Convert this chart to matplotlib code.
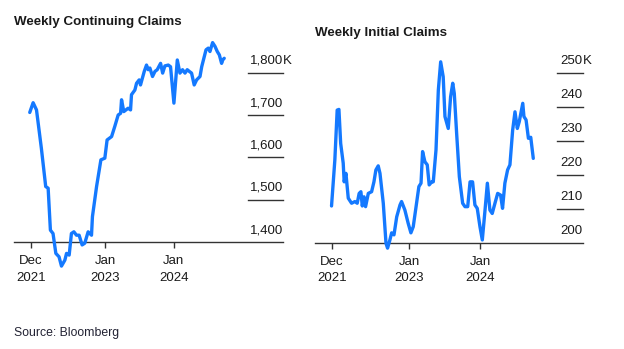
import pandas as pd
import matplotlib
matplotlib.use("Agg")
import matplotlib.pyplot as plt
from matplotlib.transforms import blended_transform_factory

plt.rcParams["font.family"] = ["Liberation Sans", "DejaVu Sans"]

# Weekly continuing claims (thousands)
cont_dates = [
    "2021-11-24", "2021-12-12", "2021-12-30", "2022-01-25", "2022-02-17", "2022-03-02",
    "2022-03-14", "2022-03-28", "2022-04-12", "2022-04-29", "2022-05-12", "2022-05-30",
    "2022-06-08", "2022-06-22", "2022-07-04", "2022-07-17", "2022-07-31", "2022-08-14",
    "2022-08-30", "2022-09-13", "2022-10-01", "2022-10-19", "2022-10-24", "2022-11-15",
    "2022-12-08", "2022-12-29", "2023-01-10", "2023-02-03", "2023-02-20", "2023-03-10",
    "2023-03-23", "2023-03-28", "2023-04-09", "2023-05-02", "2023-05-15", "2023-05-20",
    "2023-06-07", "2023-06-16", "2023-06-30", "2023-07-07", "2023-07-27", "2023-08-08",
    "2023-08-17", "2023-08-26", "2023-09-09", "2023-09-22", "2023-10-04", "2023-10-22",
    "2023-11-02", "2023-11-14", "2023-12-02", "2023-12-14", "2024-01-01", "2024-01-19",
    "2024-02-02", "2024-02-16", "2024-02-29", "2024-03-12", "2024-03-23", "2024-04-04",
    "2024-04-18", "2024-05-01", "2024-05-19", "2024-05-28", "2024-06-20", "2024-07-02",
    "2024-07-11", "2024-07-25", "2024-08-07", "2024-08-19", "2024-08-30", "2024-09-11",
    "2024-09-17", "2024-09-25",
]
cont_values = [
    1706, 1729, 1712, 1621, 1531, 1527,
    1428, 1420, 1373, 1365, 1343, 1357,
    1373, 1369, 1420, 1424, 1416, 1416,
    1393, 1397, 1424, 1416, 1460, 1531,
    1594, 1598, 1641, 1649, 1673, 1700,
    1704, 1736, 1708, 1716, 1712, 1748,
    1759, 1775, 1783, 1771, 1803, 1818,
    1807, 1811, 1791, 1803, 1807, 1822,
    1799, 1816, 1818, 1814, 1728, 1830,
    1799, 1807, 1799, 1807, 1803, 1799,
    1771, 1783, 1791, 1814, 1854, 1858,
    1850, 1871, 1862, 1850, 1842, 1822,
    1830, 1834,
]

# Weekly initial claims (thousands)
init_dates = [
    "2021-11-29", "2021-12-16", "2021-12-28", "2022-01-06", "2022-01-15", "2022-01-28",
    "2022-02-02", "2022-02-11", "2022-02-23", "2022-03-12", "2022-03-29", "2022-04-10",
    "2022-04-20", "2022-04-29", "2022-05-06", "2022-05-15", "2022-05-23", "2022-06-06",
    "2022-06-23", "2022-07-05", "2022-07-15", "2022-07-27", "2022-08-05", "2022-08-22",
    "2022-09-05", "2022-09-13", "2022-09-25", "2022-10-04", "2022-10-16", "2022-10-30",
    "2022-11-16", "2022-11-24", "2022-12-11", "2022-12-28", "2023-01-11", "2023-01-23",
    "2023-02-09", "2023-02-21", "2023-03-04", "2023-03-12", "2023-03-24", "2023-04-05",
    "2023-04-15", "2023-04-28", "2023-05-06", "2023-05-20", "2023-06-01", "2023-06-13",
    "2023-06-26", "2023-07-05", "2023-07-22", "2023-08-03", "2023-08-14", "2023-08-22",
    "2023-09-03", "2023-09-17", "2023-10-04", "2023-10-16", "2023-10-30", "2023-11-11",
    "2023-11-24", "2023-12-06", "2023-12-18", "2024-01-01", "2024-01-13", "2024-01-27",
    "2024-02-08", "2024-02-21", "2024-03-04", "2024-03-18", "2024-04-01", "2024-04-16",
    "2024-04-26", "2024-05-08", "2024-05-22", "2024-06-03", "2024-06-17", "2024-06-29",
    "2024-07-11", "2024-07-21", "2024-08-08", "2024-08-14", "2024-08-25", "2024-09-06",
    "2024-09-18", "2024-10-01",
]
init_values = [
    210.8, 224.3, 239.0, 239.2, 229.2, 223.4,
    217.9, 220.4, 213.1, 211.6, 212.1, 211.6,
    214.5, 215.0, 210.8, 213.5, 210.6, 214.5,
    215.0, 217.9, 221.4, 222.6, 220.4, 211.6,
    199.8, 198.4, 200.8, 202.9, 202.3, 207.6,
    211.1, 212.1, 209.6, 205.7, 202.9, 204.7,
    211.6, 216.5, 217.5, 226.8, 223.8, 222.9,
    217.0, 217.9, 217.9, 227.3, 244.9, 253.2,
    248.8, 237.1, 233.6, 242.9, 246.9, 243.9,
    232.2, 219.4, 211.6, 210.6, 210.6, 217.9,
    217.9, 211.1, 210.1, 204.7, 200.8, 209.6,
    217.5, 209.6, 208.6, 211.6, 214.5, 214.0,
    210.1, 217.5, 221.4, 222.9, 233.1, 238.5,
    233.6, 235.6, 241.0, 237.1, 236.1, 230.7,
    231.0, 224.8,
]

x_tick_dates = ["2021-12-01", "2023-01-01", "2024-01-01"]
x_tick_labels = ["Dec\n2021", "Jan\n2023", "Jan\n2024"]

cont_ticks = [1400, 1500, 1600, 1700, 1800]
cont_tick_labels = ["1,400", "1,500", "1,600", "1,700", "1,800"]
init_ticks = [200, 210, 220, 230, 240, 250]
init_tick_labels = ["200", "210", "220", "230", "240", "250"]

LINE_COLOR = "#1479ff"
AXIS_COLOR = "#333333"
TEXT_COLOR = "#1a1a1a"


def draw_panel(ax, dates, values, ticks, tick_labels, xlim, ylim, seg_start):
    ax.plot(pd.to_datetime(dates), values, color=LINE_COLOR, lw=2.4,
            solid_joinstyle="round", solid_capstyle="round", zorder=3)
    ax.set_xlim(pd.to_datetime(xlim[0]), pd.to_datetime(xlim[1]))
    ax.set_ylim(*ylim)

    for side in ["top", "right", "left"]:
        ax.spines[side].set_visible(False)
    ax.spines["bottom"].set_position(("data", ticks[0]))
    ax.spines["bottom"].set_color(AXIS_COLOR)
    ax.spines["bottom"].set_linewidth(1.0)

    ax.set_xticks(pd.to_datetime(x_tick_dates))
    ax.set_xticklabels(x_tick_labels, fontsize=9.5, color=TEXT_COLOR,
                       linespacing=1.5)
    ax.tick_params(axis="x", length=4.5, width=1.0, color=AXIS_COLOR, pad=5)
    ax.set_yticks([])

    trans = blended_transform_factory(ax.transAxes, ax.transData)
    for i, (val, lab) in enumerate(zip(ticks, tick_labels)):
        if i > 0:
            ax.plot([seg_start, 1.0], [val, val], color=AXIS_COLOR, lw=1.0,
                    transform=trans, clip_on=False)
        ax.annotate(lab, xy=(1.0, val), xycoords=trans, xytext=(0, 8.6),
                    textcoords="offset points", ha="right", va="center",
                    fontsize=9.5, color=TEXT_COLOR)
        if i == len(ticks) - 1:
            ax.annotate("K", xy=(1.0, val), xycoords=trans, xytext=(0, 8.6),
                        textcoords="offset points", ha="left", va="center",
                        fontsize=9.5, color=TEXT_COLOR)


fig = plt.figure(figsize=(6.24, 3.49), dpi=100)
fig.patch.set_facecolor("white")

ax1 = fig.add_axes([0.0224, 0.2218, 0.4311, 0.6791])
draw_panel(ax1, cont_dates, cont_values, cont_ticks, cont_tick_labels,
           ("2021-09-01", "2025-08-04"), (1330, 1890), 0.871)

ax2 = fig.add_axes([0.5048, 0.2364, 0.429, 0.6722])
draw_panel(ax2, init_dates, init_values, init_ticks, init_tick_labels,
           ("2021-09-05", "2025-06-12"), (193, 262), 0.903)

fig.text(14 / 624, 1 - 22 / 349, "Weekly Continuing Claims", fontsize=9.6,
         fontweight="bold", color=TEXT_COLOR, ha="left", va="center")
fig.text(315 / 624, 1 - 33 / 349, "Weekly Initial Claims", fontsize=9.6,
         fontweight="bold", color=TEXT_COLOR, ha="left", va="center")
fig.text(14 / 624, 1 - 333 / 349, "Source: Bloomberg", fontsize=8.8,
         color="#222233", ha="left", va="center")

fig.savefig("out.png", dpi=100, facecolor="white")
